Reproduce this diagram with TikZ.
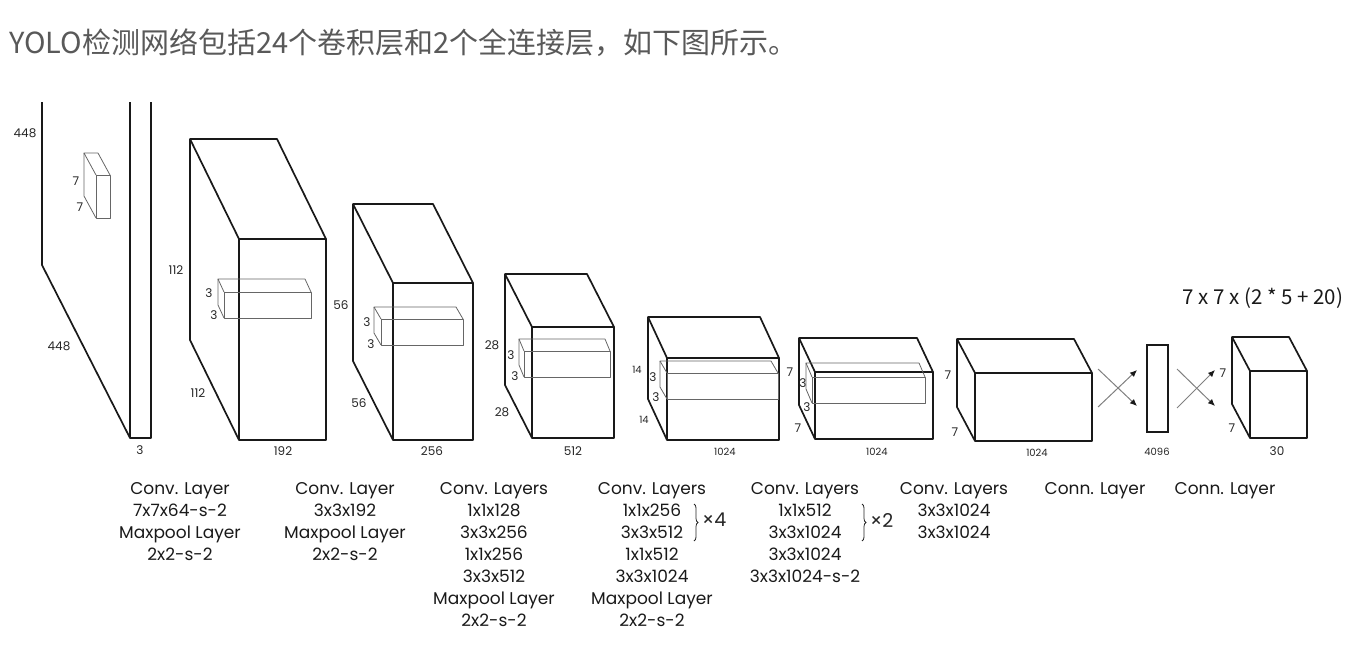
\documentclass[tikz,border=0pt]{standalone}
\usepackage{fontspec}
\setmainfont{Poppins}
\newfontfamily\cjkfont{Noto Sans CJK SC}
\usetikzlibrary{arrows.meta,positioning,decorations.pathreplacing}
\newcommand{\layerbox}[7][blk]{%
  \draw[#1] (#2,#3) rectangle (#4,#5);
  \draw[#1] (#2,#3) -- ++(#6,#7) -- ++({#4-#2},0) -- (#4,#3);
  \draw[#1] (#2,#3) ++(#6,#7) -- ++(0,{#5-#3}) -- (#2,#5);
}

\begin{document}
\begin{tikzpicture}[x=1pt, y=-1pt,
  blk/.style={line width=1.7pt, line join=round, black!90},
  kern/.style={line width=0.8pt, line join=round, black!60},
  dim/.style={font=\fontsize{12}{12}\selectfont, inner sep=0pt, black!85},
  tiny/.style={font=\fontsize{10}{10}\selectfont, inner sep=0pt, black!85},
  layertext/.style={align=center, font=\fontsize{17}{22}\selectfont, inner sep=0pt, anchor=north, black!90},
  fc/.style={line width=1pt, black!50, -{Latex[length=7pt,width=6pt,color=black!90]}},
  brc/.style={decorate, decoration={brace, amplitude=4pt}, line width=0.8pt, black!85}]
\useasboundingbox (0,0) rectangle (1363,646);
\node[anchor=west, inner sep=0pt, font=\cjkfont\fontsize{29}{29}\selectfont, text=black!65] (title) at (9,43) {YOLO检测网络包括24个卷积层和2个全连接层，如下图所示。};

\draw[blk] (42,102) -- (42,265) -- (130,438);
\draw[blk] (130,102) -- (130,438) -- (151,438) -- (151,102);
\layerbox[kern]{96}{175}{110}{218}{-12}{-22}
\node[dim] (in448a) at (25,133) {448};
\node[dim] (in448b) at (59,346) {448};
\node[dim] (in3) at (140,450) {3};
\node[dim] (k7a) at (76,181) {7};
\node[dim] (k7b) at (80,207) {7};

\layerbox{239}{239}{326}{440}{-49}{-100}
\layerbox[kern]{224}{292}{311}{318}{-6}{-13}
\node[dim] (c1h) at (176,270) {112};
\node[dim] (c1w) at (198,393) {112};
\node[dim] (c1d) at (283,451) {192};
\node[dim] (k1a) at (209,293) {3};
\node[dim] (k1b) at (214,315) {3};

\layerbox{393}{283}{473}{440}{-40}{-79}
\layerbox[kern]{381}{319}{463}{345}{-7}{-12}
\node[dim] (c2h) at (341,305) {56};
\node[dim] (c2w) at (359,403) {56};
\node[dim] (c2d) at (432,451) {256};
\node[dim] (k2a) at (367,322) {3};
\node[dim] (k2b) at (371,344) {3};

\layerbox{532}{327}{614}{438}{-27}{-53}
\layerbox[kern]{524}{351}{610}{377}{-5}{-12}
\node[dim] (c3h) at (492,345) {28};
\node[dim] (c3w) at (502,412) {28};
\node[dim] (c3d) at (573,451) {512};
\node[dim] (k3a) at (511,355) {3};
\node[dim] (k3b) at (515,376) {3};

\layerbox{667}{358}{779}{440}{-19}{-41}
\layerbox[kern]{667}{373}{778}{399}{-7}{-12}
\node[tiny] (c4h) at (637,370) {14};
\node[tiny] (c4w) at (644,420) {14};
\node[tiny] (c4d) at (725,452) {1024};
\node[dim] (k4a) at (653,377) {3};
\node[dim] (k4b) at (656,397) {3};

\layerbox{815}{372}{933}{439}{-16}{-34}
\layerbox[kern]{812}{377}{925}{403}{-6}{-14}
\node[dim] (c5h) at (790,372) {7};
\node[dim] (c5w) at (798,428) {7};
\node[tiny] (c5d) at (877,452) {1024};
\node[dim] (k5a) at (803,383) {3};
\node[dim] (k5b) at (807,407) {3};

\layerbox{975}{373}{1092}{441}{-18}{-34}
\node[dim] (c6h) at (948,375) {7};
\node[dim] (c6w) at (955,432) {7};
\node[tiny] (c6d) at (1037,453) {1024};

\node[draw, line width=1.7pt, black!90, minimum width=21pt, minimum height=87pt, inner sep=0pt] (fc1) at (1157.5,388.5) {};
\node[tiny] (fc1d) at (1157,452) {4096};

\layerbox{1250}{371}{1307}{438}{-18}{-34}
\node[dim] (o7a) at (1223,373) {7};
\node[dim] (o7b) at (1232,428) {7};
\node[dim] (o30) at (1277,451) {30};
\node[font=\cjkfont\fontsize{20.5}{20.5}\selectfont, inner sep=0pt, black!90] (outsz) at (1263,298) {7 x 7 x (2 * 5 + 20)};

\coordinate (a1) at (1098,407); \coordinate (a2) at (1137,370);
\coordinate (a3) at (1098,369); \coordinate (a4) at (1137,406);
\coordinate (b1) at (1177,408); \coordinate (b2) at (1215,370);
\coordinate (b3) at (1177,369); \coordinate (b4) at (1215,406);
\draw[fc] (a1) -- (a2);
\draw[fc] (a3) -- (a4);
\draw[fc] (b1) -- (b2);
\draw[fc] (b3) -- (b4);

\node[layertext] (l1) at (180,482) {Conv. Layer\\7x7x64-s-2\\Maxpool Layer\\2x2-s-2};
\node[layertext] (l2) at (345,482) {Conv. Layer\\3x3x192\\Maxpool Layer\\2x2-s-2};
\node[layertext] (l3) at (494,482) {Conv. Layers\\1x1x128\\3x3x256\\1x1x256\\3x3x512\\Maxpool Layer\\2x2-s-2};
\node[layertext] (l4) at (652,482) {Conv. Layers\\1x1x256\\3x3x512\\1x1x512\\3x3x1024\\Maxpool Layer\\2x2-s-2};
\node[layertext] (l5) at (805,482) {Conv. Layers\\1x1x512\\3x3x1024\\3x3x1024\\3x3x1024-s-2};
\node[layertext] (l6) at (954,482) {Conv. Layers\\3x3x1024\\3x3x1024};
\node[layertext] (l7) at (1095,482) {Conn. Layer};
\node[layertext] (l8) at (1225,482) {Conn. Layer};
\draw[brc] (694,504) -- (694,541);
\node[anchor=west, inner sep=0pt, font=\fontsize{19}{19}\selectfont, black!85] (x4) at (702,520) {×4};
\draw[brc] (862,504) -- (862,541);
\node[anchor=west, inner sep=0pt, font=\fontsize{19}{19}\selectfont, black!85] (x2) at (870,520) {×2};
\end{tikzpicture}
\end{document}
